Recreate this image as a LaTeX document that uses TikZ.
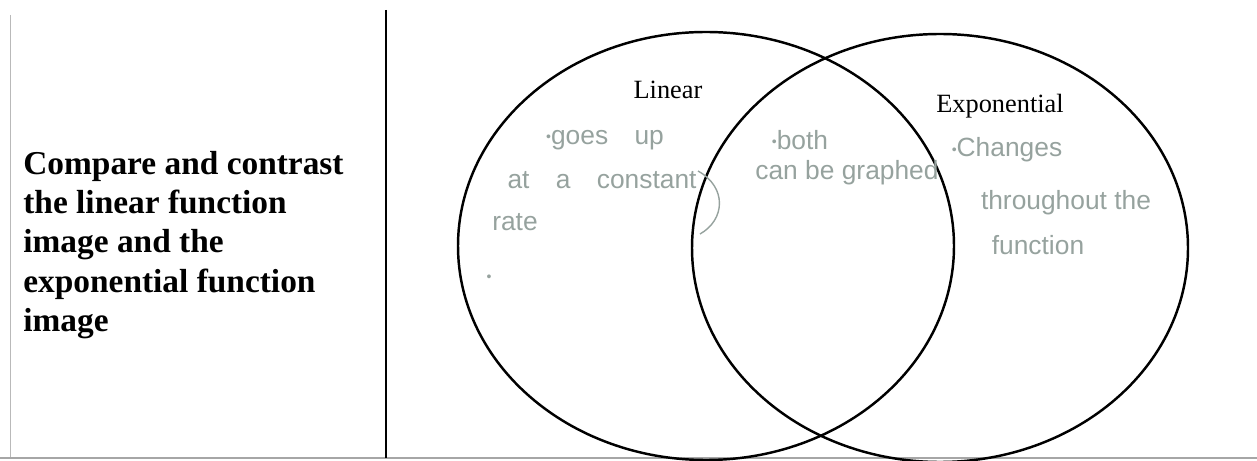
\documentclass[tikz,border=0pt]{standalone}
\usepackage{fontspec}
\setmainfont{Liberation Serif}
\newfontfamily\handfont{Liberation Sans}
\definecolor{pencil}{RGB}{150,162,158}
\newcommand{\handdot}{{\fontsize{8}{8}\selectfont\raisebox{0.35ex}{•}}}
\begin{document}
\begin{tikzpicture}
\tikzstyle{setline}=[line width=1.4pt]
\tikzstyle{setname}=[font=\fontsize{15}{17}\selectfont, inner sep=1pt]
\tikzstyle{hand}=[text=pencil, font=\handfont\fontsize{15}{17}\selectfont, inner sep=1pt]
\useasboundingbox (0,0) rectangle (25.14,-9.22);
% table frame
\draw[gray!55, line width=0.4pt] (0.2,-0.3) -- (0.2,-9.16);
\draw[gray!70, line width=0.8pt] (0,-9.16) -- (25.14,-9.16);
\draw[line width=0.6pt] (7.72,-0.2) -- (7.72,-9.16);
% prompt cell
\node[anchor=west, align=left, inner sep=0pt, font=\bfseries\fontsize{19}{22.4}\selectfont] (prompt) at (0.46,-4.9)
  {Compare and contrast\\the linear function\\image and the\\exponential function\\image};
% venn diagram
\draw[setline] (14.12,-4.92) ellipse (4.96 and 4.28);
\draw[setline] (18.8,-4.96) ellipse (4.96 and 4.28);
\node[setname] (linear) at (13.36,-1.8) {Linear};
\node[setname] (expo) at (20.0,-2.12) {Exponential};
% written answers
\node[hand] (goes) at (12.1,-2.8) {\handdot goes\quad up};
\node[hand] (const) at (12.04,-3.6) {at\quad a\quad constant};
\draw[pencil, line width=0.8pt] (13.96,-3.42) .. controls (14.55,-3.75) and (14.5,-4.4) .. (14.0,-4.68);
\node[hand] (rate) at (10.3,-4.44) {rate};
\node[hand] (dot) at (9.78,-5.6) {\handdot};
\node[hand] (both) at (16.0,-2.8) {\handdot both};
\node[hand] (graphed) at (16.94,-3.46) {can be graphed};
\node[hand] (changes) at (20.14,-3.0) {\handdot Changes};
\node[hand] (through) at (21.32,-4.06) {throughout the};
\node[hand] (func) at (20.76,-4.9) {function};
\end{tikzpicture}
\end{document}
